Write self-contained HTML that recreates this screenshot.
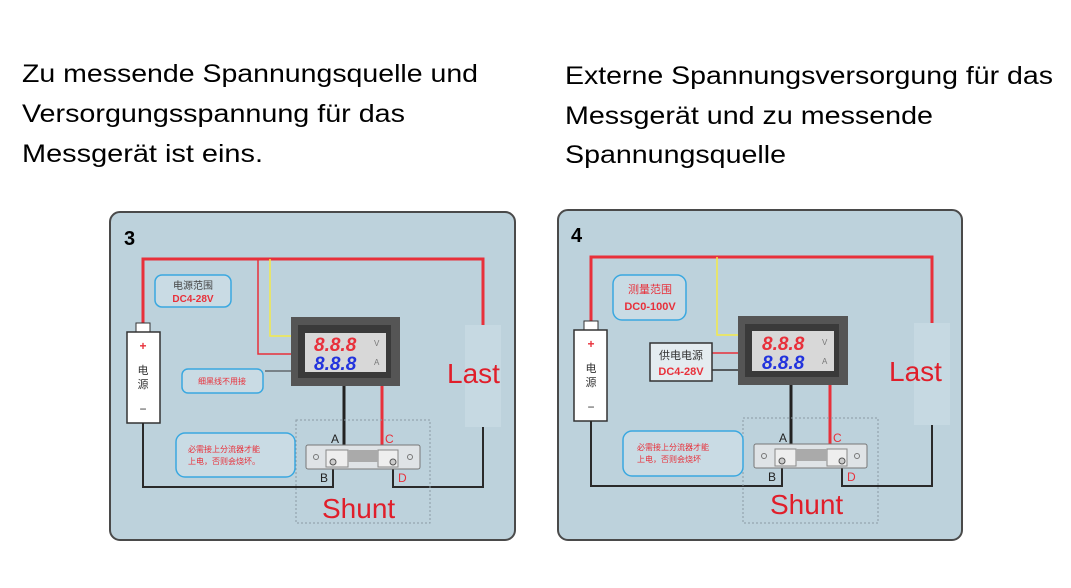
<!DOCTYPE html>
<html><head><meta charset="utf-8"><style>body{margin:0;background:#fff}svg{display:block}</style></head>
<body>
<svg width="1071" height="588" viewBox="0 0 1071 588" xmlns="http://www.w3.org/2000/svg" font-family="Liberation Sans, Noto Sans CJK SC, sans-serif">
<g font-size="25" fill="#000">
<text x="22" y="82" textLength="456" lengthAdjust="spacingAndGlyphs">Zu messende Spannungsquelle und</text>
<text x="22" y="122" textLength="383" lengthAdjust="spacingAndGlyphs">Versorgungsspannung für das</text>
<text x="22" y="162" textLength="241" lengthAdjust="spacingAndGlyphs">Messgerät ist eins.</text>
<text x="565" y="84" textLength="488" lengthAdjust="spacingAndGlyphs">Externe Spannungsversorgung für das</text>
<text x="565" y="124" textLength="368" lengthAdjust="spacingAndGlyphs">Messgerät und zu messende</text>
<text x="565" y="163" textLength="221" lengthAdjust="spacingAndGlyphs">Spannungsquelle</text>
</g>

<!-- Panel 3 -->
<rect x="110" y="212" width="405" height="328" rx="10" fill="#bdd2dc" stroke="#4a4a4a" stroke-width="2"/>
<text x="124" y="245" font-size="20" font-weight="bold">3</text>
<polyline points="143,323 143,259 483,259 483,325" fill="none" stroke="#e8303a" stroke-width="3"/>
<polyline points="258,259 258,354 291,354" fill="none" stroke="#e8303a" stroke-width="1.5"/>
<polyline points="270,259 270,336 291,336" fill="none" stroke="#f4e94a" stroke-width="1.5"/>
<rect x="465" y="325" width="36" height="102" fill="#c6d9e2"/>
<rect x="136" y="323" width="14" height="9" fill="#fff" stroke="#333"/>
<rect x="127" y="332" width="33" height="91" fill="#fff" stroke="#333" stroke-width="1.5"/>
<text x="143" y="350" font-size="12" fill="#e8303a" text-anchor="middle" font-weight="bold">+</text>
<text x="143" y="374" font-size="11" fill="#333" text-anchor="middle">电</text>
<text x="143" y="388" font-size="11" fill="#333" text-anchor="middle">源</text>
<text x="143" y="413" font-size="12" fill="#333" text-anchor="middle">−</text>
<polyline points="143,423 143,487 333,487 333,462" fill="none" stroke="#2a2a2a" stroke-width="2"/>
<polyline points="483,427 483,487 393,487 393,462" fill="none" stroke="#2a2a2a" stroke-width="2"/>
<line x1="344" y1="386" x2="344" y2="451" stroke="#222" stroke-width="3"/>
<line x1="382" y1="386" x2="382" y2="451" stroke="#e8303a" stroke-width="3"/>
<line x1="265" y1="371" x2="291" y2="371" stroke="#333" stroke-width="1"/>
<rect x="291" y="317" width="109" height="69" fill="#555"/>
<rect x="298" y="325" width="93" height="53" fill="#3a3a3a"/>
<rect x="305" y="333" width="81" height="39" fill="#d8d8d8"/>
<text x="314" y="351" font-size="19" font-style="italic" fill="#e8303a" font-weight="bold">8.8.8</text>
<text x="314" y="370" font-size="19" font-style="italic" fill="#2233dd" font-weight="bold">8.8.8</text>
<text x="374" y="346" font-size="8" fill="#777">V</text>
<text x="374" y="365" font-size="8" fill="#777">A</text>
<rect x="296" y="420" width="134" height="103" fill="none" stroke="#8a9aa3" stroke-dasharray="2,2"/>
<rect x="306" y="445" width="114" height="24" rx="2" fill="#dfe3e6" stroke="#777"/>
<rect x="326" y="450" width="22" height="17" fill="#eee" stroke="#888"/>
<rect x="378" y="450" width="20" height="17" fill="#eee" stroke="#888"/>
<rect x="348" y="450" width="30" height="12" fill="#aaa"/>
<circle cx="316" cy="457" r="2.5" fill="none" stroke="#777"/><circle cx="410" cy="457" r="2.5" fill="none" stroke="#777"/>
<circle cx="333" cy="462" r="3" fill="#ccc" stroke="#555"/><circle cx="393" cy="462" r="3" fill="#ccc" stroke="#555"/>
<text x="331" y="443" font-size="12" fill="#222">A</text>
<text x="385" y="443" font-size="12" fill="#e8303a">C</text>
<text x="320" y="482" font-size="12" fill="#222">B</text>
<text x="398" y="482" font-size="12" fill="#e8303a">D</text>
<rect x="155" y="275" width="76" height="32" rx="7" fill="#c9dbe4" stroke="#3aa8e0" stroke-width="1.5"/>
<text x="193" y="289" font-size="10" fill="#444" text-anchor="middle">电源范围</text>
<text x="193" y="302" font-size="10" fill="#e8303a" text-anchor="middle" font-weight="bold">DC4-28V</text>
<rect x="182" y="369" width="81" height="24" rx="6" fill="#c9dbe4" stroke="#3aa8e0" stroke-width="1.5"/>
<text x="222" y="384" font-size="8" fill="#e8303a" text-anchor="middle">细黑线不用接</text>
<rect x="176" y="433" width="119" height="44" rx="9" fill="#c9dbe4" stroke="#3aa8e0" stroke-width="1.5"/>
<text x="188" y="452" font-size="8" fill="#e8303a">必需接上分流器才能</text>
<text x="188" y="464" font-size="8" fill="#e8303a">上电，否则会烧坏。</text>
<text x="447" y="383" font-size="28" fill="#e01e2a">Last</text>
<text x="322" y="518" font-size="28" fill="#e01e2a">Shunt</text>

<!-- Panel 4 -->
<rect x="558" y="210" width="404" height="330" rx="10" fill="#bdd2dc" stroke="#4a4a4a" stroke-width="2"/>
<text x="571" y="242" font-size="20" font-weight="bold">4</text>
<polyline points="591,323 591,257 932,257 932,323" fill="none" stroke="#e8303a" stroke-width="3"/>
<polyline points="717,257 717,335 738,335" fill="none" stroke="#f4e94a" stroke-width="1.5"/>
<rect x="914" y="323" width="36" height="102" fill="#c6d9e2"/>
<rect x="584" y="321" width="14" height="9" fill="#fff" stroke="#333"/>
<rect x="574" y="330" width="33" height="91" fill="#fff" stroke="#333" stroke-width="1.5"/>
<text x="591" y="348" font-size="12" fill="#e8303a" text-anchor="middle" font-weight="bold">+</text>
<text x="591" y="372" font-size="11" fill="#333" text-anchor="middle">电</text>
<text x="591" y="386" font-size="11" fill="#333" text-anchor="middle">源</text>
<text x="591" y="411" font-size="12" fill="#333" text-anchor="middle">−</text>
<polyline points="591,421 591,486 782,486 782,460" fill="none" stroke="#2a2a2a" stroke-width="2"/>
<polyline points="932,425 932,486 842,486 842,460" fill="none" stroke="#2a2a2a" stroke-width="2"/>
<line x1="791" y1="385" x2="791" y2="450" stroke="#222" stroke-width="3"/>
<line x1="830" y1="385" x2="830" y2="450" stroke="#e8303a" stroke-width="3"/>
<line x1="712" y1="353" x2="738" y2="353" stroke="#e8303a" stroke-width="1.5"/>
<line x1="712" y1="370" x2="738" y2="370" stroke="#333" stroke-width="1.5"/>
<rect x="650" y="343" width="62" height="38" fill="#e4ecf0" stroke="#333" stroke-width="1.5"/>
<text x="681" y="359" font-size="11" fill="#333" text-anchor="middle">供电电源</text>
<text x="681" y="375" font-size="11" fill="#e8303a" text-anchor="middle" font-weight="bold">DC4-28V</text>
<rect x="738" y="316" width="110" height="69" fill="#555"/>
<rect x="745" y="324" width="94" height="53" fill="#3a3a3a"/>
<rect x="752" y="331" width="82" height="40" fill="#d8d8d8"/>
<text x="762" y="350" font-size="19" font-style="italic" fill="#e8303a" font-weight="bold">8.8.8</text>
<text x="762" y="369" font-size="19" font-style="italic" fill="#2233dd" font-weight="bold">8.8.8</text>
<text x="822" y="345" font-size="8" fill="#777">V</text>
<text x="822" y="364" font-size="8" fill="#777">A</text>
<rect x="743" y="418" width="135" height="105" fill="none" stroke="#8a9aa3" stroke-dasharray="2,2"/>
<rect x="754" y="444" width="113" height="24" rx="2" fill="#dfe3e6" stroke="#777"/>
<rect x="775" y="449" width="21" height="17" fill="#eee" stroke="#888"/>
<rect x="827" y="449" width="20" height="17" fill="#eee" stroke="#888"/>
<rect x="796" y="449" width="31" height="12" fill="#aaa"/>
<circle cx="764" cy="456" r="2.5" fill="none" stroke="#777"/><circle cx="857" cy="456" r="2.5" fill="none" stroke="#777"/>
<circle cx="782" cy="461" r="3" fill="#ccc" stroke="#555"/><circle cx="842" cy="461" r="3" fill="#ccc" stroke="#555"/>
<text x="779" y="442" font-size="12" fill="#222">A</text>
<text x="833" y="442" font-size="12" fill="#e8303a">C</text>
<text x="768" y="481" font-size="12" fill="#222">B</text>
<text x="847" y="481" font-size="12" fill="#e8303a">D</text>
<rect x="613" y="275" width="73" height="45" rx="9" fill="#c9dbe4" stroke="#3aa8e0" stroke-width="1.5"/>
<text x="650" y="293" font-size="11" fill="#e8303a" text-anchor="middle">测量范围</text>
<text x="650" y="310" font-size="11" fill="#e8303a" text-anchor="middle" font-weight="bold">DC0-100V</text>
<rect x="623" y="431" width="120" height="45" rx="9" fill="#c9dbe4" stroke="#3aa8e0" stroke-width="1.5"/>
<text x="637" y="450" font-size="8" fill="#e8303a">必需接上分流器才能</text>
<text x="637" y="462" font-size="8" fill="#e8303a">上电，否则会烧坏</text>
<text x="889" y="381" font-size="28" fill="#e01e2a">Last</text>
<text x="770" y="514" font-size="28" fill="#e01e2a">Shunt</text>
</svg>
</body></html>
